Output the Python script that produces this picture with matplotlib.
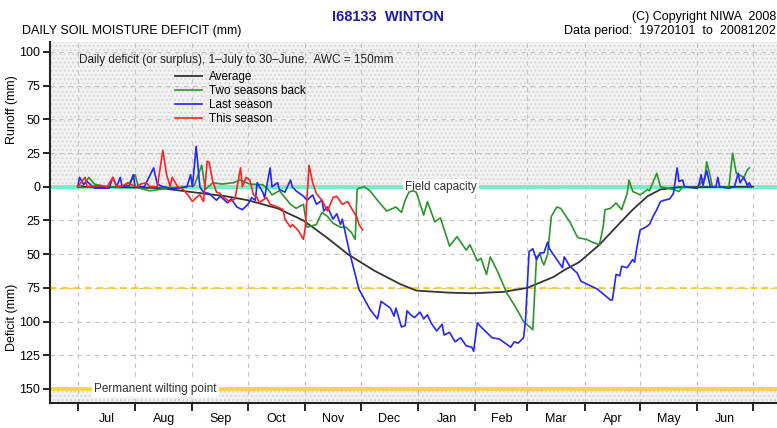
"""
Daily soil moisture deficit chart for Winton (I68133)
"""

import matplotlib
matplotlib.use('Agg')
import matplotlib.pyplot as plt
import matplotlib.transforms as mtransforms

plt.rcParams['font.family'] = ['Liberation Sans Narrow', 'Liberation Sans', 'DejaVu Sans']

# day of season (0 = 1 July), values in mm (positive = runoff, negative = deficit)
month_starts = [0, 31, 62, 92, 123, 153, 184, 215, 243, 274, 304, 335, 365]
month_labels = ['Jul', 'Aug', 'Sep', 'Oct', 'Nov', 'Dec', 'Jan', 'Feb', 'Mar', 'Apr', 'May', 'Jun']

avg_day = [0, 30, 45, 62, 80, 92, 108, 122, 134, 146, 160, 174, 183, 200, 213,
           230, 243, 257, 264, 271, 282, 293, 300, 308, 315, 325, 365]
avg_val = [0, -0.5, -1, -4, -7, -10, -16, -25, -37, -50, -62, -72, -77, -78.5, -79,
           -78, -75, -67, -61, -56, -43, -27, -17, -7, -2, -0.3, 0]

two_back_day = [0, 3, 6, 9, 12, 17, 23, 28, 31, 33, 39, 44, 50, 58, 63, 67, 69, 73, 78,
                84, 88, 93, 100, 103, 105, 109, 115, 118, 122, 124, 129, 132, 135, 138,
                142, 145, 148, 150, 151, 152, 155, 158, 162, 167, 172, 175, 177, 179,
                181, 183, 187, 189, 193, 196, 201, 205, 210, 212, 216, 218, 221, 223,
                227, 232, 237, 241, 246, 248, 250, 251, 252, 254, 256, 259, 261, 266,
                270, 271, 275, 278, 282, 284, 285, 288, 291, 294, 297, 298, 300, 304,
                308, 309, 313, 315, 322, 325, 327, 335, 339, 340, 342, 343, 352, 354,
                356, 360, 362, 363]
two_back_val = [0, 1, 7, 2, 1, 0, 0, 3, 9, -1, -3, -2, -1, 0, 1, 16, -2, 3, 2,
                3, 5, 2, 1.5, -2, -6, -3, -13, -16, -13, -30, -28, -19, -22, -27,
                -30, -30, -34, -39, -2, -1, 0, -3, -10, -18, -15, -19, -10, -4,
                -3, -4, -21, -11, -26, -23, -44, -37, -47, -43, -55, -53, -65, -52,
                -63, -79, -90, -100, -106, -52, -50, -55, -58, -50, -22, -15, -16, -26,
                -37, -38, -39, -41, -43, -30, -17, -16, -12, -17, -5, 5, -3.5, -6,
                -2, -3, 10, 0, -2, -3.5, 0, -1, 7, 18.5, 7, 0, 0, 25,
                10, 7, 12.5, 14]

last_day = [0, 1, 3, 5, 9, 15, 17, 19, 21, 23, 24, 28, 30, 31, 36, 41, 43, 46, 50, 55,
            59, 61, 62, 64, 66, 68, 71, 75, 77, 81, 83, 86, 89, 92, 94, 96, 97, 100,
            101, 104, 105, 108, 109, 112, 115, 116, 118, 120, 122, 124, 127, 129, 132,
            133, 135, 138, 140, 142, 143, 147, 152, 158, 162, 164, 167, 169, 171, 172,
            175, 177, 178, 180, 182, 185, 187, 189, 191, 194, 197, 198, 201, 204, 207,
            210, 213, 214, 216, 218, 221, 224, 228, 231, 234, 236, 238, 241, 242, 244,
            246, 248, 250, 252, 254, 255, 259, 262, 263, 266, 270, 272, 275, 281, 288,
            289, 291, 293, 294, 297, 300, 301, 302, 304, 307, 309, 311, 313, 315, 317,
            320, 322, 324, 325, 327, 328, 335, 336, 337, 338, 340, 342, 345, 346, 347,
            352, 355, 357, 358, 360, 362, 363, 364]
last_val = [0, 7, 2, 4, -1, -1, -1, 7, 0, 7, 0, 1, 9, 0, 0, 14, 2, 0, -1, -1,
            0, 9, 0, 30, 0, -4, -5, -10, -7, -12, -9, -15, -17, -13, -8, -10, 3, -4,
            -8, 14, 0, 3, -2, -4, 5, 0, -3, -5, -7, -10, -6, -13, -10,
            -18, -15, -24, -20, -28, -24, -49, -76, -91, -98, -85, -88, -90, -96, -90,
            -104, -103, -92, -95, -97, -93, -98, -95, -101, -107, -102, -110, -108, -115, -112,
            -118, -119, -122, -101, -104, -108, -112, -113, -116, -119, -115, -116, -112, -100, -48,
            -46, -54, -49, -49, -41, -46, -54, -60, -52, -59, -64, -70, -72, -76, -84,
            -84, -65, -66, -59, -60, -54, -56, -47, -32, -30, -28, -22, -17, -11, -10,
            -9, -5, 14, 4, 5, 0, -1, 3, 9, 1, 12, 0, 0, 7, 0,
            -1, 0, 10, 3, 7, 1, 3, 0]

this_day = [0, 4, 5, 12, 16, 19, 21, 25, 27, 30, 32, 34, 37, 39, 43, 46, 48, 50, 51, 54,
            57, 60, 62, 64, 66, 68, 70, 71, 73, 75, 77, 78, 80, 82, 85, 88, 89, 91, 93,
            95, 97, 98, 101, 102, 104, 108, 111, 112, 115, 116, 119, 122, 123, 125, 127,
            129, 132, 135, 138, 140, 143, 146, 148, 151, 152, 154]
this_val = [0, 7, 0, 1, 0, 7, 0, 1, 3, 1, 0, 2, 3, 0, 0, 27, 9, 0, 7, 0,
            -2, -7, -11, -8, -6, -11, 19, 18, 4, -4, -5, -7, -9, -11, -9, 14, 0, 7, 5,
            -6, -8, -12, -9, -8, -13, -15, -17, -24, -30, -28, -32, -39, -30, 16, 3,
            -5, -10, -18, -8, -7, -13, -11, -16, -23, -28, -32]

y_ticks = [100, 75, 50, 25, 0, -25, -50, -75, -100, -125, -150]

fig = plt.figure(figsize=(7.77, 4.28), dpi=100)
ax = fig.add_axes([50 / 777, 25 / 428, 727 / 777, 361 / 428])
ax.set_xlim(-15, 378)
ax.set_ylim(-160.4, 107.4)

# stippled runoff / below wilting point areas
ax.axhspan(0, 110, facecolor='#f3f3f3', edgecolor='#d8d8d8', hatch='....', lw=0, zorder=0)
ax.axhspan(-165, -150, facecolor='#f3f3f3', edgecolor='#d8d8d8', hatch='....', lw=0, zorder=0)

for yv in y_ticks:
    ax.axhline(yv, color='#c4c4c4', lw=0.8, dashes=(4, 4), zorder=1)
for d in month_starts:
    ax.axvline(d, color='#c4c4c4', lw=0.8, dashes=(4, 4), zorder=1)

ax.axhline(0, color='#6ff2c6', lw=2.8, zorder=2)
ax.axhline(-75, color='#ffc21a', lw=1.2, dashes=(4, 3), zorder=2)
ax.axhline(-150, color='#ffd24a', lw=2.8, zorder=2)

ax.plot(avg_day, avg_val, color='#333333', lw=1.3, label='Average', zorder=4)
ax.plot(two_back_day, two_back_val, color='#2a962a', lw=1.2, label='Two seasons back', zorder=4)
ax.plot(last_day, last_val, color='#2525ff', lw=1.2, label='Last season', zorder=4)
ax.plot(this_day, this_val, color='#ff2222', lw=1.2, label='This season', zorder=4)

ax.text(177, 0, 'Field capacity', fontsize=8.5, color='#333333', va='center', ha='left',
        bbox=dict(facecolor='white', edgecolor='none', pad=1.5), zorder=3)
ax.text(9, -150, 'Permanent wilting point', fontsize=8.5, color='#333333', va='center', ha='left',
        bbox=dict(facecolor='white', edgecolor='none', pad=1.5), zorder=3)

ax.text(0.04, 0.950, 'Daily deficit (or surplus), 1\u2013July to 30\u2013June.  AWC = 150mm',
        transform=ax.transAxes, fontsize=8.5, color='#222222', va='center', ha='left')
ax.legend(loc='upper left', bbox_to_anchor=(125 / 727, 1 - 29 / 361), frameon=False,
          fontsize=8.5, handlelength=2.3, handletextpad=0.6, labelspacing=0.18,
          borderpad=0, borderaxespad=0)

ax.set_yticks(y_ticks)
ax.set_yticklabels([str(abs(v)) for v in y_ticks], fontsize=9)
ax.set_xticks(month_starts)
ax.set_xticklabels([])
ax.set_xticks([(a + b) / 2 for a, b in zip(month_starts[:-1], month_starts[1:])], minor=True)
ax.set_xticklabels(month_labels, minor=True, fontsize=9)
for lbl in ax.get_xticklabels(minor=True):
    lbl.set_verticalalignment('baseline')
ax.tick_params(axis='x', which='major', length=6, width=1.2, direction='out')
ax.tick_params(axis='x', which='minor', length=0, pad=14)
ax.tick_params(axis='y', length=5, width=1.2, direction='out', pad=2)

for side in ['top', 'right']:
    ax.spines[side].set_visible(False)
for side in ['left', 'bottom']:
    ax.spines[side].set_linewidth(1.5)
    ax.spines[side].set_color('#222222')

trans = mtransforms.blended_transform_factory(ax.transAxes, ax.transData)
ax.text(-0.052, 57, 'Runoff (mm)', transform=trans, rotation=90, fontsize=9,
        va='center', ha='center')
ax.text(-0.052, -97, 'Deficit (mm)', transform=trans, rotation=90, fontsize=9,
        va='center', ha='center')

fig.text(0.5, 1 - 17 / 428, 'I68133  WINTON', color='#1c1ca8', fontsize=10.5,
         fontweight='bold', ha='center', va='center')
fig.text(22 / 777, 1 - 31 / 428, 'DAILY SOIL MOISTURE DEFICIT (mm)', fontsize=9,
         ha='left', va='center')
fig.text(0.999, 1 - 17 / 428, '(C) Copyright NIWA  2008', fontsize=9, ha='right', va='center')
fig.text(0.999, 1 - 31 / 428, 'Data period:  19720101  to  20081202', fontsize=9,
         ha='right', va='center')

fig.savefig('out.png', dpi=100)
